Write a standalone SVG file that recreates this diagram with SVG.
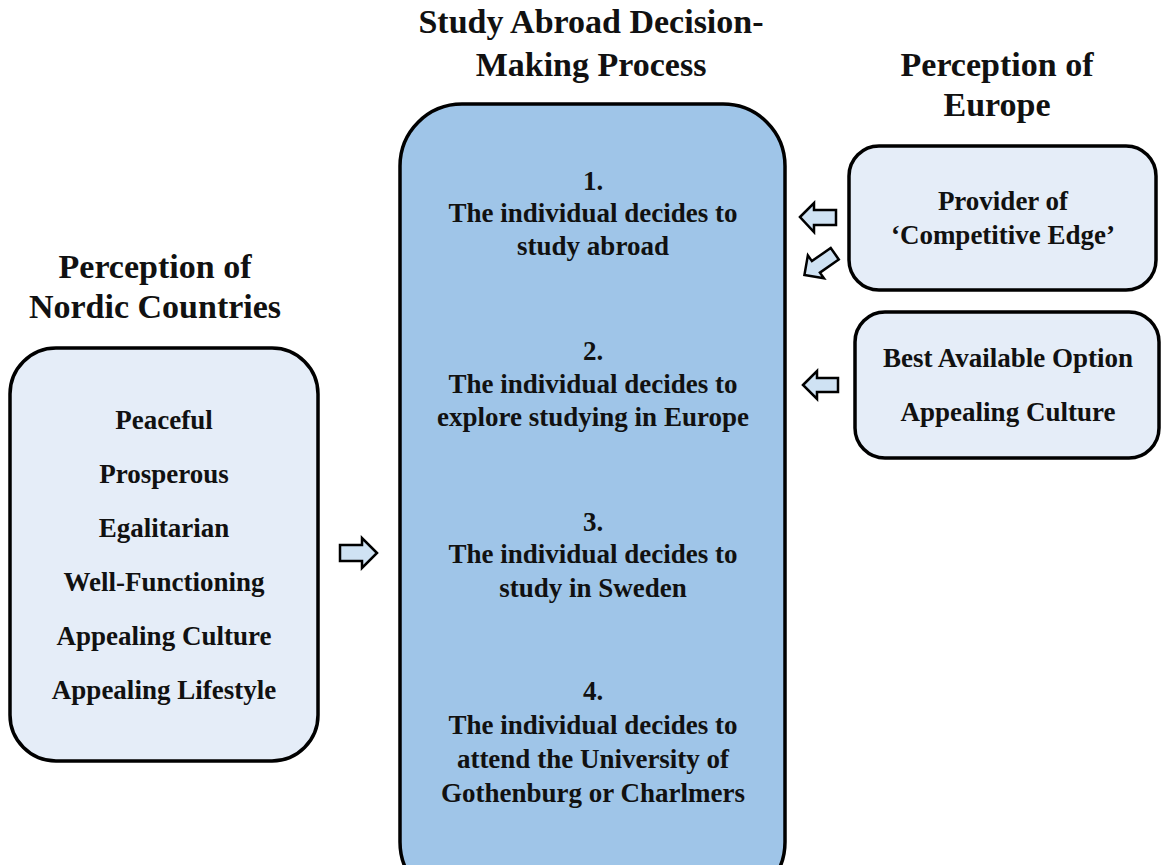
<svg xmlns="http://www.w3.org/2000/svg" width="1161" height="865" viewBox="0 0 1161 865">
<style>
text{font-family:"Liberation Serif","Times New Roman",serif;font-weight:bold;fill:#111;text-anchor:middle}
.t{font-size:34px}
.b{font-size:27px}
.box{stroke:#000;stroke-width:3.5}
.light{fill:#e5edf8}
.main{fill:#9fc5e8}
.arr{fill:#cfe2f3;stroke:#000;stroke-width:2.5;stroke-linejoin:miter}
</style>
<rect width="1161" height="865" fill="#fff"/>
<g id="title-process"><text class="t" x="591" y="33">Study Abroad Decision-</text><text class="t" x="591" y="76">Making Process</text></g>
<g id="title-europe"><text class="t" x="997" y="76">Perception of</text><text class="t" x="997" y="116">Europe</text></g>
<g id="title-nordic"><text class="t" x="155" y="278">Perception of</text><text class="t" x="155" y="318">Nordic Countries</text></g>
<g id="process">
<rect class="box main" x="400" y="104" width="385" height="800" rx="62"/>
<text class="b" x="593" y="190">1.</text><text class="b" x="593" y="222">The individual decides to</text><text class="b" x="593" y="255">study abroad</text>
<text class="b" x="593" y="360">2.</text><text class="b" x="593" y="393">The individual decides to</text><text class="b" x="593" y="426">explore studying in Europe</text>
<text class="b" x="593" y="531">3.</text><text class="b" x="593" y="563">The individual decides to</text><text class="b" x="593" y="597">study in Sweden</text>
<text class="b" x="593" y="700">4.</text><text class="b" x="593" y="734">The individual decides to</text><text class="b" x="593" y="768">attend the University of</text><text class="b" x="593" y="802">Gothenburg or Charlmers</text>
</g>
<g id="nordic">
<rect class="box light" x="10" y="348" width="308" height="413" rx="46"/>
<text class="b" x="164" y="429">Peaceful</text><text class="b" x="164" y="483">Prosperous</text><text class="b" x="164" y="537">Egalitarian</text><text class="b" x="164" y="591">Well-Functioning</text><text class="b" x="164" y="645">Appealing Culture</text><text class="b" x="164" y="699">Appealing Lifestyle</text>
</g>
<g id="europe-edge">
<rect class="box light" x="849" y="146" width="307" height="144" rx="30"/>
<text class="b" x="1003" y="210">Provider of</text><text class="b" x="1003" y="244">‘Competitive Edge’</text>
</g>
<g id="europe-option">
<rect class="box light" x="855" y="312" width="304" height="146" rx="30"/>
<text class="b" x="1008" y="367">Best Available Option</text><text class="b" x="1008" y="421">Appealing Culture</text>
</g>
<g id="connectors">
<polygon class="arr" points="800,217 814,203 814,210 836,210 836,225 814,225 814,232"/>
<polygon class="arr" transform="rotate(-35 820 264)" points="801,264 815,250 815,257 838,257 838,271 815,271 815,278"/>
<polygon class="arr" points="803,385 817,371 817,378 838,378 838,392 817,392 817,399"/>
<polygon class="arr" points="377,553 362,538 362,545 340,545 340,561 362,561 362,568"/>
</g>
</svg>
